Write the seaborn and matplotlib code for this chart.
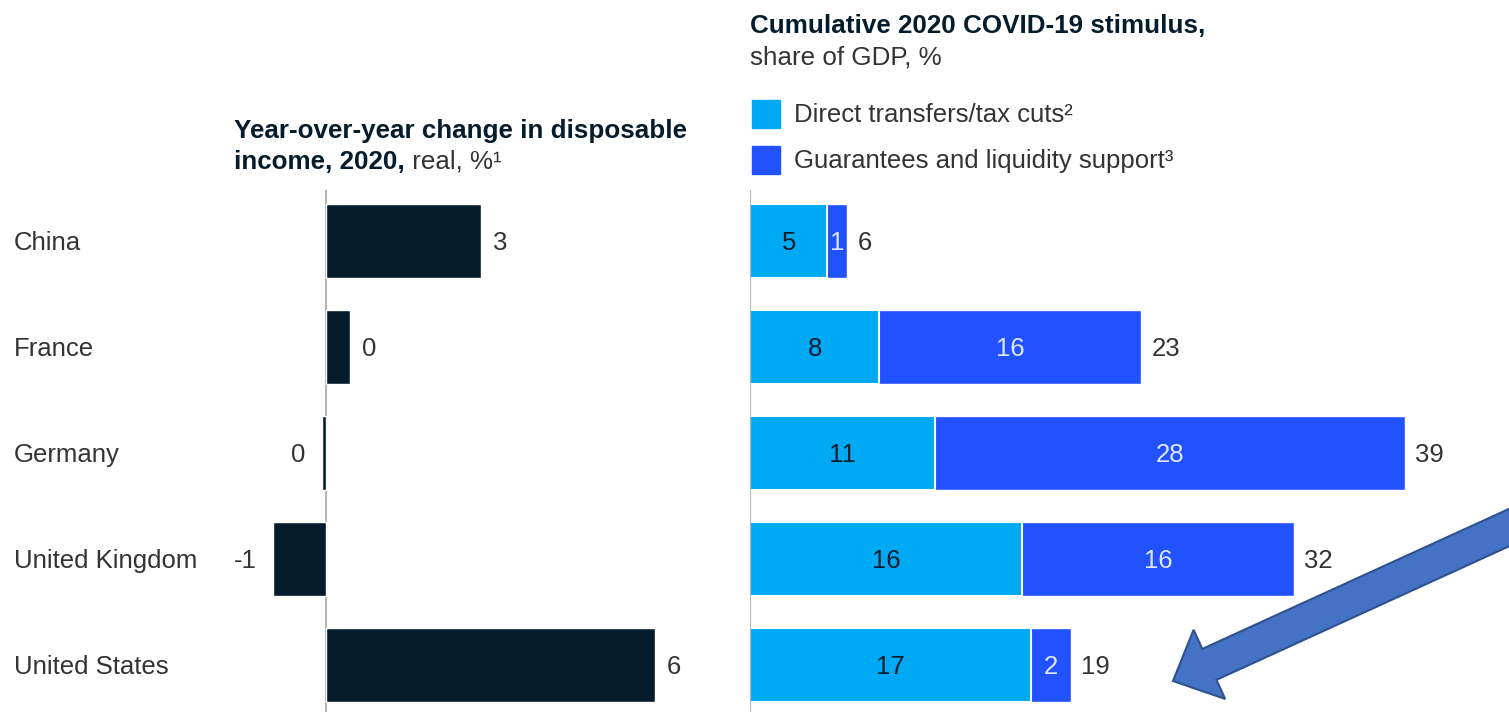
import matplotlib
matplotlib.use('Agg')
import matplotlib.pyplot as plt
import matplotlib.transforms as mtransforms
from matplotlib.patches import FancyArrow, Rectangle
import seaborn as sns
import pandas as pd

# dados
countries = ['China', 'France', 'Germany', 'United Kingdom', 'United States']
income_change = [2.83, 0.44, -0.07, -0.97, 6.0]
direct_transfers = [4.6, 7.7, 11.0, 16.2, 16.7]
guarantees = [1.2, 15.6, 28.0, 16.2, 2.4]

W, H = 1509, 712
navy = '#051C2C'
light_blue = '#00A9F4'
dark_blue = '#2251FF'
gray_txt = '#333333'

sns.set_theme(style='white')
plt.rcParams['font.family'] = ['Liberation Sans', 'DejaVu Sans']

df = pd.DataFrame({'country': countries, 'income': income_change,
                   'direct': direct_transfers, 'guar': guarantees})
df['total'] = df['direct'] + df['guar']

fig = plt.figure(figsize=(W / 100, H / 100), dpi=100)

def px_axes(x0, x1, y0, y1):
    return fig.add_axes([x0 / W, 1 - y1 / H, (x1 - x0) / W, (y1 - y0) / H])

ylim = (4.44, -0.48)

# painel esquerdo
ax1 = px_axes(230, 700, 190, 712)
sns.barplot(data=df, y='country', x='income', orient='h', color=navy,
            width=0.7, ax=ax1, saturation=1)
ax1.set_xlim((230 - 326) / 54.8, (700 - 326) / 54.8)
ax1.set_ylim(*ylim)
ax1.axvline(0, color='#b5b5b5', lw=1.5, zorder=0)

# painel direito (barras empilhadas: total por baixo, transferências por cima)
ax2 = px_axes(750, 1480, 190, 712)
sns.barplot(data=df, y='country', x='total', orient='h', color=dark_blue,
            width=0.7, ax=ax2, saturation=1)
sns.barplot(data=df, y='country', x='direct', orient='h', color=light_blue,
            width=0.7, ax=ax2, saturation=1, edgecolor='white', linewidth=1.5)
ax2.set_xlim(0, 730 / 16.8)
ax2.set_ylim(*ylim)
ax2.axvline(0, color='#b5b5b5', lw=1.5, zorder=5)

for ax in (ax1, ax2):
    for s in ax.spines.values():
        s.set_visible(False)
    ax.set_xticks([])
    ax.set_yticks([])
    ax.set_xlabel('')
    ax.set_ylabel('')
    ax.patch.set_alpha(0)

fs = 18.5
dy = 0.02  # pequeno ajuste vertical do texto
blend = mtransforms.blended_transform_factory(fig.transFigure, ax1.transData)
for i, c in enumerate(countries):
    ax1.text(14 / W, i + dy, c, transform=blend, ha='left', va='center',
             fontsize=fs, color=gray_txt)

# rótulos do painel esquerdo
for i, v in enumerate(income_change):
    lab = str(int(round(v))) if round(v) != 0 else '0'
    if v >= 0.1:
        ax1.text(v + 0.22, i + dy, lab, ha='left', va='center', fontsize=fs, color=gray_txt)
    else:
        ax1.text(v - 0.3, i + dy, lab, ha='right', va='center', fontsize=fs, color=gray_txt)

# rótulos do painel direito
for i in range(len(countries)):
    d, g = direct_transfers[i], guarantees[i]
    ax2.text(d / 2, i + dy, str(int(round(d))), ha='center', va='center',
             fontsize=fs, color=navy)
    ax2.text(d + g / 2, i + dy, str(int(round(g))), ha='center', va='center',
             fontsize=fs, color='#dfe6ff')
    ax2.text(d + g + 0.6, i + dy, str(int(round(d + g))), ha='left', va='center',
             fontsize=fs, color=gray_txt)

# títulos
renderer = fig.canvas.get_renderer()

def ptext(x, y, s, **kw):
    return fig.text(x / W, 1 - y / H, s, va='center', ha='left', **kw)

def after(t, s, **kw):
    bb = t.get_window_extent(renderer)
    return fig.text(bb.x1 / W, t.get_position()[1], s, va='center', ha='left', **kw)

tfs = 18.7
ptext(234, 131, 'Year-over-year change in disposable', fontsize=tfs,
      fontweight='bold', color=navy)
t = ptext(234, 162, 'income, 2020,', fontsize=tfs, fontweight='bold', color=navy)
after(t, ' real, %\u00b9', fontsize=tfs, color=gray_txt)

ptext(750, 26, 'Cumulative 2020 COVID-19 stimulus,', fontsize=tfs,
      fontweight='bold', color=navy)
ptext(750, 58, 'share of GDP, %', fontsize=tfs, color=gray_txt)

# legenda
for yc, col, lab in [(114, light_blue, 'Direct transfers/tax cuts\u00b2'),
                     (160, dark_blue, 'Guarantees and liquidity support\u00b3')]:
    fig.patches.append(Rectangle((752 / W, 1 - (yc + 14) / H), 28 / W, 28 / H,
                                 transform=fig.transFigure, color=col))
    ptext(794, yc + 1, lab, fontsize=fs, color=gray_txt)

# seta
arrow = FancyArrow(1530, 194, -357, -163, width=34, head_width=76,
                   head_length=40, length_includes_head=True,
                   facecolor='#4472C4', edgecolor='#2F528F', lw=1.5,
                   transform=mtransforms.IdentityTransform())
fig.patches.append(arrow)

fig.savefig('out.png', dpi=100)
